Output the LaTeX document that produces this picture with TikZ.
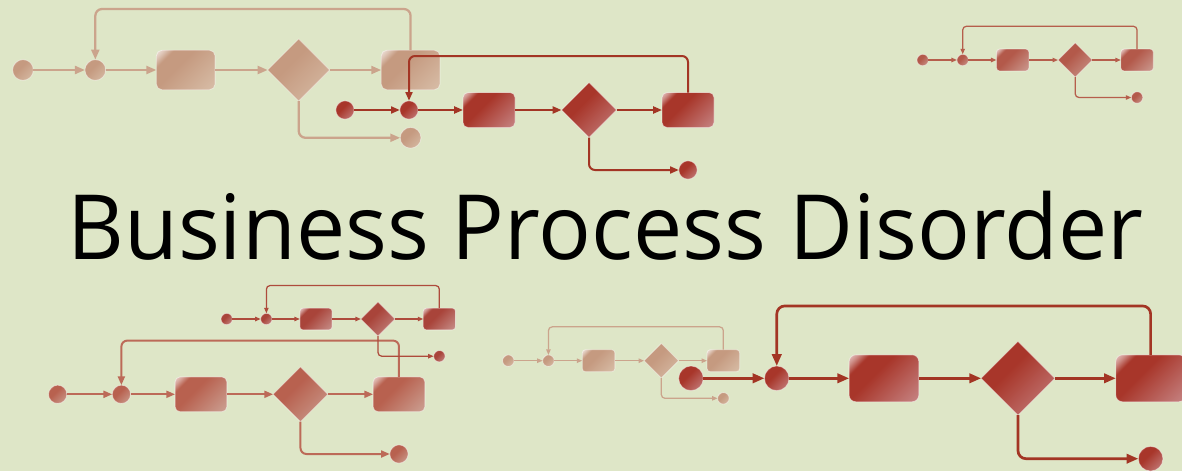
\documentclass[tikz,border=0pt]{standalone}
\usepackage{fontspec}
\usepackage{graphicx}
\setmainfont{Open Sans}
\usetikzlibrary{arrows.meta,shapes.geometric}
\definecolor{bg}{HTML}{DEE6C7}
\definecolor{bpdbase}{HTML}{A8362A}
\definecolor{bpdlight}{HTML}{C88888}
\definecolor{bpdline}{HTML}{A33524}
\pgfdeclarehorizontalshading[bpdbase,bpdlight]{bpd}{100bp}{color(0bp)=(white);color(12bp)=(white!85!bpdbase);color(20bp)=(white!45!bpdbase);color(27bp)=(bpdbase);color(42bp)=(bpdbase);color(88bp)=(bpdlight);color(100bp)=(bpdlight)}
\tikzset{
  bpdshape/.style={shading=bpd, shading angle=-45, draw=white, draw opacity=0.45,
    line width=0.4pt, inner sep=0pt, outer sep=0pt},
  bpdconn/.style={draw=bpdline, line width=\bpdlw pt, rounded corners=\bpdrc pt,
    -{Triangle[length=\bpdal pt, width=\bpdaw pt]}},
  bpdtitle/.style={inner sep=0pt, anchor=base west, font=\fontsize{45}{50}\selectfont, text=black}
}
% name, x, y, scale, base, light, line
\newcommand\bpdflow[7]{%
  \definecolor{bpdbase}{HTML}{#5}\definecolor{bpdlight}{HTML}{#6}\definecolor{bpdline}{HTML}{#7}%
  \pgfmathsetmacro\bpds{#4}%
  \pgfmathsetmacro\bpdlw{1*\bpds}%
  \pgfmathsetmacro\bpdrc{3*\bpds}%
  \pgfmathsetmacro\bpdal{4.4*\bpds}%
  \pgfmathsetmacro\bpdaw{3.5*\bpds}%
  \pgfmathsetmacro\bpdcs{9.2*\bpds}%
  \pgfmathsetmacro\bpdrw{26*\bpds}%
  \pgfmathsetmacro\bpdrh{17.5*\bpds}%
  \pgfmathsetmacro\bpddw{27.5*\bpds}%
  \pgfmathsetmacro\bpdrr{2.5*\bpds}%
  \node[bpdshape,circle,minimum size=\bpdcs pt] (#1s) at (#2,#3) {};
  \node[bpdshape,circle,minimum size=\bpdcs pt] (#1m) at ({#2+64*\bpds},#3) {};
  \node[bpdshape,rectangle,rounded corners=\bpdrr pt,minimum width=\bpdrw pt,minimum height=\bpdrh pt] (#1a) at ({#2+144*\bpds},#3) {};
  \node[bpdshape,diamond,aspect=1,minimum size=\bpddw pt] (#1d) at ({#2+244*\bpds},#3) {};
  \node[bpdshape,rectangle,rounded corners=\bpdrr pt,minimum width=\bpdrw pt,minimum height=\bpdrh pt] (#1b) at ({#2+343*\bpds},#3) {};
  \node[bpdshape,circle,minimum size=\bpdcs pt] (#1e) at ({#2+343*\bpds},{#3+60*\bpds}) {};
  \coordinate (#1t) at ({#2+64*\bpds},{#3-54*\bpds});
  \draw[bpdconn] (#1s) -- (#1m);
  \draw[bpdconn] (#1m) -- (#1a);
  \draw[bpdconn] (#1a) -- (#1d);
  \draw[bpdconn] (#1d) -- (#1b);
  \draw[bpdconn] (#1b.north) |- (#1t) -- (#1m.north);
  \draw[bpdconn] (#1d.south) |- (#1e.west);
}
\begin{document}
\begin{tikzpicture}[x=0.5pt,y=-0.5pt]
  \fill[bg] (0,0) rectangle (1182,471);
  \useasboundingbox (0,0) rectangle (1182,471);
  \bpdflow{A}{23}{70}{1.13}{C59A80}{D9C0AA}{CBA48C}
  \bpdflow{F}{508.3}{360.7}{0.627}{C59A80}{D9C0AA}{CBA48C}
  \bpdflow{C}{922.7}{60}{0.625}{B3594A}{CDA096}{B65E4C}
  \bpdflow{E}{57.7}{394.3}{0.995}{B8614F}{CDA598}{BC6A58}
  \bpdflow{D}{226.7}{319}{0.62}{A9443A}{C99590}{AE4B3C}
  \bpdflow{B}{345}{110}{1.0}{A8362A}{C88A8A}{A33524}
  \bpdflow{G}{691}{378.3}{1.34}{A8362A}{C88A8A}{A33524}
  \node[bpdtitle] (title) at (67,259) {\scalebox{0.975}[1]{Business Process Disorder}};
\end{tikzpicture}
\end{document}
